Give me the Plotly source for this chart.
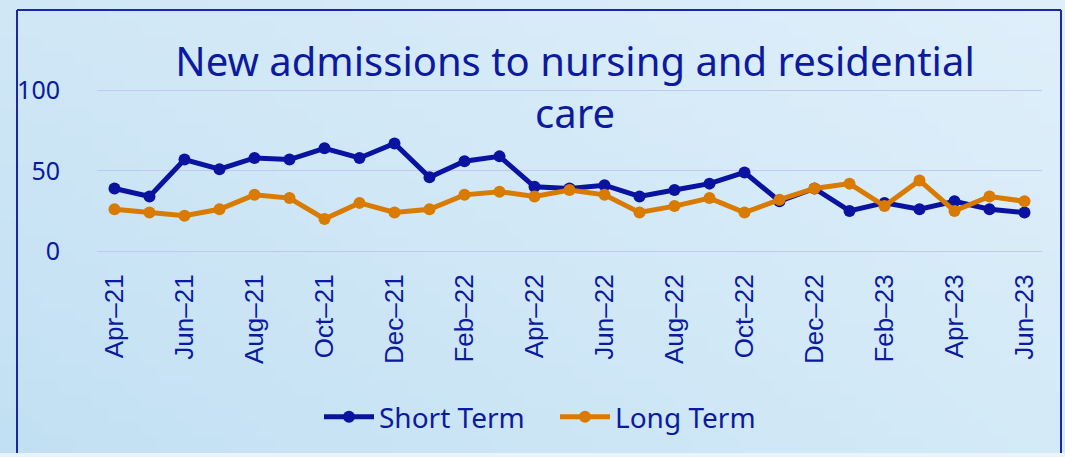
import base64, struct, zlib
import plotly.graph_objects as go

months = ["Apr-21", "May-21", "Jun-21", "Jul-21", "Aug-21", "Sep-21", "Oct-21", "Nov-21", "Dec-21",
          "Jan-22", "Feb-22", "Mar-22", "Apr-22", "May-22", "Jun-22", "Jul-22", "Aug-22", "Sep-22",
          "Oct-22", "Nov-22", "Dec-22", "Jan-23", "Feb-23", "Mar-23", "Apr-23", "May-23", "Jun-23"]
short_term = [39, 34, 57, 51, 58, 57, 64, 58, 67, 46, 56, 59, 40, 39, 41, 34, 38, 42, 49, 31, 39,
              25, 30, 26, 31, 26, 24]
long_term = [26, 24, 22, 26, 35, 33, 20, 30, 24, 26, 35, 37, 34, 38, 35, 24, 28, 33, 24, 32, 39,
             42, 28, 44, 25, 34, 31]
tick_labels = months[::2]
tick_text = [m.replace("-", "\u2013") for m in tick_labels]

W, H = 1065, 457
L, R, T, B = 97, 23, 89, 206
PW, PH = W - L - R, H - T - B

def px(x):
    return (x - L) / PW

def py(y):
    return (H - B - y) / PH

# background gradient image
def gradient_png(w, h, tl, tr, bl, br):
    rows = []
    for j in range(h):
        fy = j / (h - 1)
        row = bytearray([0])
        for i in range(w):
            fx = i / (w - 1)
            for c in range(3):
                top = tl[c] * (1 - fx) + tr[c] * fx
                bot = bl[c] * (1 - fx) + br[c] * fx
                row.append(int(round(top * (1 - fy) + bot * fy)))
        rows.append(bytes(row))
    raw = b"".join(rows)

    def chunk(tag, data):
        c = struct.pack(">I", len(data)) + tag + data
        return c + struct.pack(">I", zlib.crc32(tag + data) & 0xffffffff)

    png = b"\x89PNG\r\n\x1a\n"
    png += chunk(b"IHDR", struct.pack(">IIBBBBB", w, h, 8, 2, 0, 0, 0))
    png += chunk(b"IDAT", zlib.compress(raw, 9))
    png += chunk(b"IEND", b"")
    return "data:image/png;base64," + base64.b64encode(png).decode()

bg = gradient_png(64, 32, (208, 231, 246), (223, 239, 250), (194, 224, 243), (212, 234, 247))

navy = "#0a12a0"
orange = "#d97b00"
text_col = "#0b1a9e"
title_font = "Noto Sans, Open Sans, sans-serif"

fig = go.Figure()
fig.add_trace(go.Scatter(x=months, y=short_term, name="Short Term", mode="lines+markers",
                         line=dict(color=navy, width=5), marker=dict(color=navy, size=12)))
fig.add_trace(go.Scatter(x=months, y=long_term, name="Long Term", mode="lines+markers",
                         line=dict(color=orange, width=5), marker=dict(color=orange, size=12)))

fig.update_layout(
    width=W, height=H,
    margin=dict(l=L, r=R, t=T, b=B, autoexpand=False),
    paper_bgcolor="#d2e8f5",
    plot_bgcolor="rgba(0,0,0,0)",
    title=dict(text="New admissions to nursing and residential<br>care",
               x=575 / W, xanchor="center", y=1 - 76 / H, yanchor="top",
               font=dict(family=title_font, size=40, color=text_col)),
    showlegend=True,
    legend=dict(orientation="h", x=px(555), xanchor="center", y=py(417), yanchor="middle",
                font=dict(family=title_font, size=28, color=text_col),
                itemwidth=50, entrywidth=171, entrywidthmode="pixels",
                bgcolor="rgba(0,0,0,0)"),
    images=[dict(source=bg, xref="paper", yref="paper", x=px(0), y=py(0),
                 sizex=W / PW, sizey=H / PH, sizing="stretch", layer="below")],
    shapes=[
        dict(type="rect", xref="paper", yref="paper", x0=px(0), x1=px(W), y0=py(H), y1=py(453),
             fillcolor="#eaf4fb", line=dict(width=0), layer="below"),
        dict(type="line", xref="paper", yref="paper", x0=px(17), x1=px(17), y0=py(453), y1=py(10),
             line=dict(color="#1a28a8", width=2), layer="below"),
        dict(type="line", xref="paper", yref="paper", x0=px(17), x1=px(1061), y0=py(10), y1=py(10),
             line=dict(color="#1a28a8", width=2), layer="below"),
        dict(type="line", xref="paper", yref="paper", x0=px(1061), x1=px(1061), y0=py(453), y1=py(10),
             line=dict(color="#1a28a8", width=2), layer="below"),
    ],
)

fig.update_xaxes(type="category", categoryorder="array", categoryarray=months,
                 range=[-0.5, len(months) - 0.5], autorange=False,
                 tickmode="array", tickvals=tick_labels, ticktext=tick_text,
                 tickangle=-90, ticks="outside", ticklen=12, tickcolor="rgba(0,0,0,0)",
                 tickfont=dict(family="Liberation Sans, Arial, sans-serif", size=26, color=text_col),
                 showgrid=False, showline=False, zeroline=False)
fig.update_yaxes(range=[0, 101], autorange=False, tickmode="array", tickvals=[0, 50, 100],
                 showgrid=True, gridcolor="#c4c6f4", gridwidth=1,
                 zeroline=True, zerolinecolor="#c4c6f4", zerolinewidth=1,
                 ticks="outside", ticklen=31, tickcolor="rgba(0,0,0,0)",
                 tickfont=dict(family=title_font, size=25, color=text_col),
                 showline=False)

fig.write_html("out.html", config={"displayModeBar": False},
               post_script="document.body.style.margin='0';document.body.style.padding='0';")
